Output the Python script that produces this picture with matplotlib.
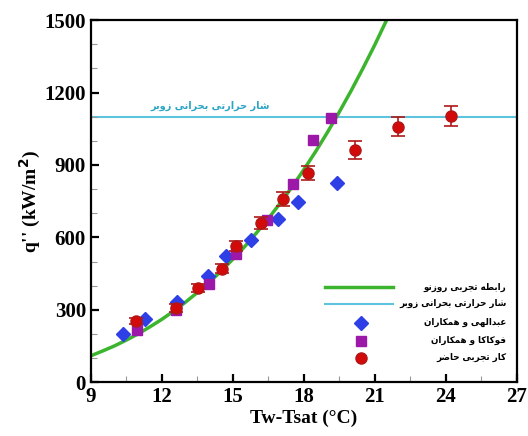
import matplotlib
matplotlib.use("Agg")
import matplotlib.pyplot as plt
from matplotlib.lines import Line2D
import numpy as np

# Rohsenow correlation
rohsenow_dt = [9, 9.5, 10, 10.5, 11, 11.5, 12, 12.5, 13, 13.5, 14, 14.5, 15, 15.5,
               16, 16.5, 17, 17.5, 18, 18.5, 19, 19.5, 20, 20.5, 21, 21.5]
rohsenow_q = [110, 130, 151, 175, 201, 230, 261, 295, 332, 372, 414, 460, 510, 562,
              619, 678, 742, 809, 881, 956, 1036, 1120, 1208, 1301, 1398, 1501]

# Zuber critical heat flux
zuber_chf = 1100

# Abdollahi et al.
abd_dt = [10.36, 11.28, 12.65, 13.95, 14.73, 15.76, 16.91, 17.77, 19.38]
abd_q = [199, 261, 333, 442, 522, 590, 675, 746, 826]

# Fukaka et al.
fuk_dt = [10.93, 12.6, 13.98, 15.13, 16.45, 17.55, 18.37, 19.13]
fuk_q = [215, 300, 408, 532, 674, 823, 1003, 1093]

# present experimental work
exp_dt = [10.9, 12.6, 13.53, 14.53, 15.12, 16.18, 17.1, 18.18, 20.18, 21.98, 24.21]
exp_q = [254, 307, 391, 471, 566, 660, 760, 868, 962, 1058, 1103]
exp_err = [14, 16, 16, 18, 21, 24, 28, 29, 37, 40, 41]

labels = ["رابطه تجربی روزنو", "شار حرارتی بحرانی زوبر", "عبدالهی و همکاران",
          "فوکاکا و همکاران", "کار تجربی حاضر"]
zuber_label = "شار حرارتی بحرانی زوبر"

# contextual forms: isolated, final, initial, medial
FORMS = {
    "ا": ("\uFE8D", "\uFE8E"), "د": ("\uFEA9", "\uFEAA"), "ر": ("\uFEAD", "\uFEAE"),
    "ز": ("\uFEAF", "\uFEB0"), "و": ("\uFEED", "\uFEEE"),
    "ب": ("\uFE8F", "\uFE90", "\uFE91", "\uFE92"), "ت": ("\uFE95", "\uFE96", "\uFE97", "\uFE98"),
    "ج": ("\uFE9D", "\uFE9E", "\uFE9F", "\uFEA0"), "ح": ("\uFEA1", "\uFEA2", "\uFEA3", "\uFEA4"),
    "ش": ("\uFEB5", "\uFEB6", "\uFEB7", "\uFEB8"), "ض": ("\uFEBD", "\uFEBE", "\uFEBF", "\uFEC0"),
    "ط": ("\uFEC1", "\uFEC2", "\uFEC3", "\uFEC4"), "ع": ("\uFEC9", "\uFECA", "\uFECB", "\uFECC"),
    "ف": ("\uFED1", "\uFED2", "\uFED3", "\uFED4"), "ل": ("\uFEDD", "\uFEDE", "\uFEDF", "\uFEE0"),
    "م": ("\uFEE1", "\uFEE2", "\uFEE3", "\uFEE4"), "ن": ("\uFEE5", "\uFEE6", "\uFEE7", "\uFEE8"),
    "ه": ("\uFEE9", "\uFEEA", "\uFEEB", "\uFEEC"), "ی": ("\uFBFC", "\uFBFD", "\uFBFE", "\uFBFF"),
    "ک": ("\uFB8E", "\uFB8F", "\uFB90", "\uFB91"),
}


def shape(text):
    # join the letters and put them in visual order
    out = []
    for i, ch in enumerate(text):
        if ch not in FORMS:
            out.append(ch)
            continue
        prev = i > 0 and len(FORMS.get(text[i - 1], ())) == 4
        nxt = len(FORMS[ch]) == 4 and i + 1 < len(text) and text[i + 1] in FORMS
        f = FORMS[ch]
        if prev and nxt:
            out.append(f[3])
        elif prev:
            out.append(f[1])
        elif nxt:
            out.append(f[2])
        else:
            out.append(f[0])
    return "".join(reversed(out))


green = "#3cb52e"
cyan = "#5ec3dc"
blue = "#2f3fe6"
purple = "#9c18a8"
red = "#d20a0a"
darkred = "#b01818"

plt.rcParams["font.family"] = ["Liberation Serif", "DejaVu Sans"]
plt.rcParams["font.weight"] = "bold"

fig = plt.figure(figsize=(5.28, 4.36), dpi=100)
ax = fig.add_axes([0.172, 0.123, 0.807, 0.831])

ax.plot(rohsenow_dt, rohsenow_q, color=green, lw=2.5, zorder=2)
ax.axhline(zuber_chf, color=cyan, lw=1.5, zorder=1)
ax.plot(abd_dt, abd_q, ls="none", marker="D", ms=7.5, color=blue, zorder=3)
ax.plot(fuk_dt, fuk_q, ls="none", marker="s", ms=7, color=purple, zorder=3)
ax.errorbar(exp_dt, exp_q, yerr=exp_err, fmt="o", ms=8, color=red, mec=darkred,
            ecolor=darkred, elinewidth=1.2, capsize=5, capthick=1.2, zorder=4)

ax.text(14.03, 1145, shape(zuber_label), color="#2aa5c5", fontsize=7,
        family="DejaVu Sans", weight="bold", ha="center", va="center")

ax.set_xlim(9, 27)
ax.set_ylim(0, 1500)
ax.set_xticks(np.arange(9, 28, 3))
ax.set_xticks(np.arange(10.5, 27, 3), minor=True)
ax.set_yticks(np.arange(0, 1501, 300))
ax.set_yticks(np.arange(0, 1501, 100), minor=True)
ax.tick_params(which="major", direction="in", length=6, width=1.6, labelsize=15, color="black")
ax.tick_params(which="minor", direction="in", length=4, width=0.8, color="#999999")
for s in ax.spines.values():
    s.set_linewidth(1.6)
for t in ax.get_xticklabels() + ax.get_yticklabels():
    t.set_fontweight("bold")

ax.set_xlabel("Tw-Tsat (°C)", fontsize=14, fontweight="bold", labelpad=2)
ax.set_ylabel("q'' (kW/m$^\\mathbf{2}$)", fontsize=14, fontweight="bold", labelpad=1)

# legend drawn by hand so the Persian labels sit right aligned
rows = [0.263, 0.217, 0.165, 0.115, 0.068]
ax.add_line(Line2D([0.549, 0.709], [rows[0]] * 2, transform=ax.transAxes, color=green, lw=2.5))
ax.add_line(Line2D([0.549, 0.709], [rows[1]] * 2, transform=ax.transAxes, color=cyan, lw=1.5))
ax.add_line(Line2D([0.635], [rows[2]], transform=ax.transAxes, marker="D", ms=7.5, color=blue))
ax.add_line(Line2D([0.635], [rows[3]], transform=ax.transAxes, marker="s", ms=7, color=purple))
ax.add_line(Line2D([0.635], [rows[4]], transform=ax.transAxes, marker="o", ms=8, color=red, mec=darkred))
for y, lab in zip(rows, labels):
    ax.text(0.975, y, shape(lab), transform=ax.transAxes, ha="right", va="center",
            fontsize=6.3, family="DejaVu Sans", weight="bold")

fig.savefig("out.png", dpi=100)
